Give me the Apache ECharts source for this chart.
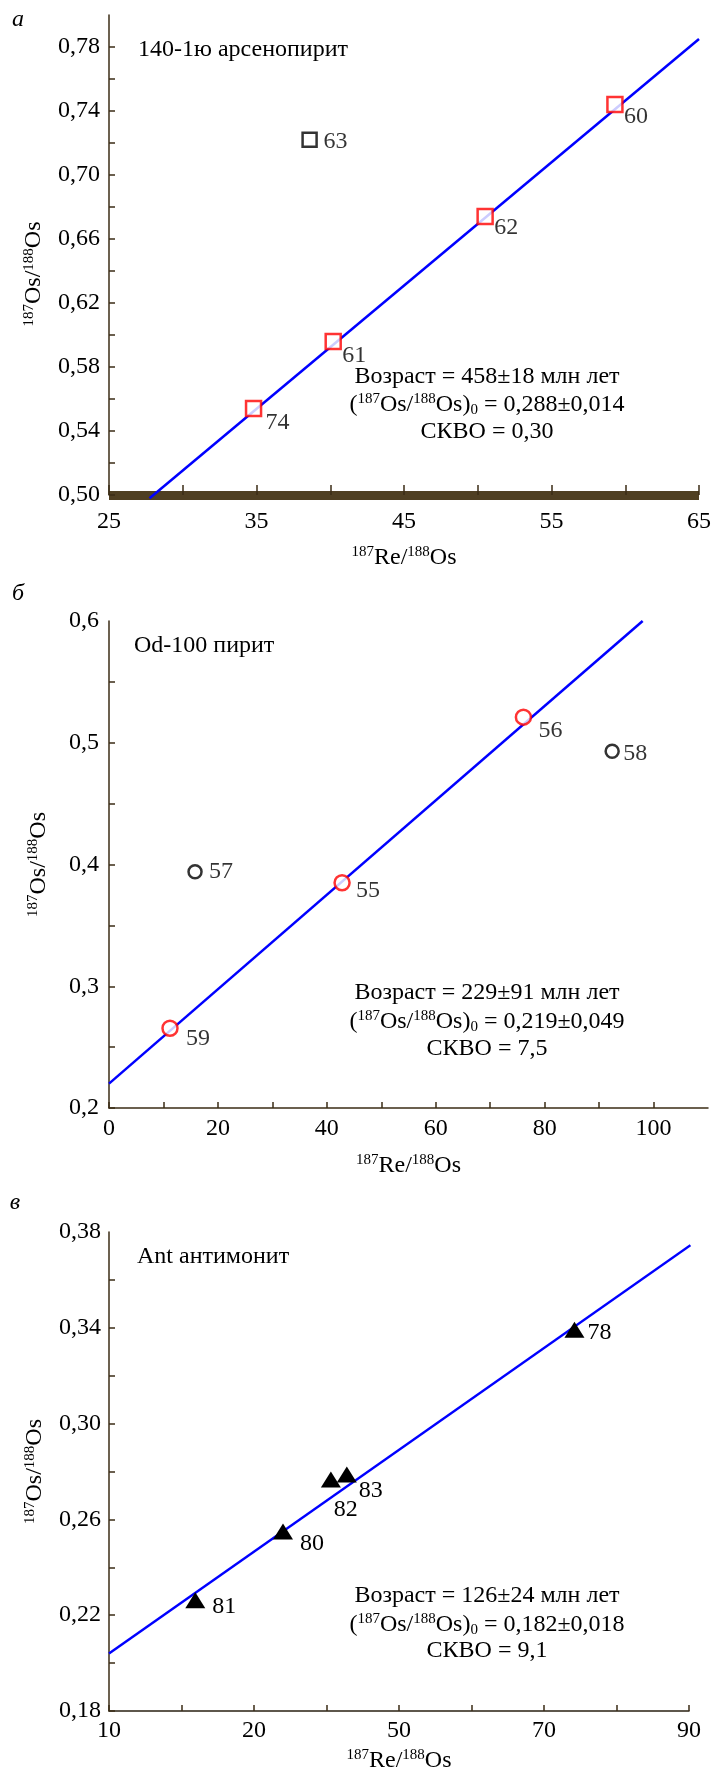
<!DOCTYPE html>
<html>
<head>
<meta charset="utf-8">
<script src="https://cdn.jsdelivr.net/npm/echarts@6/dist/echarts.min.js"></script>
<style>
html,body{margin:0;padding:0;background:#fff;}
#chart{width:715px;height:1775px;}
</style>
</head>
<body>
<div id="chart"></div>
<script>
// ---------- DATA ----------
// Panel а : 140-1ю арсенопирит
const aFitX = [34.8, 40.2, 50.5, 59.3];
const aFitY = [0.554, 0.596, 0.674, 0.744];
const aFitIds = ['74', '61', '62', '60'];
const aOutX = [38.6];
const aOutY = [0.722];
const aOutIds = ['63'];
const aLineX = [27.75, 65];
const aLineY = [0.498, 0.785];
const aXTicks = [25, 30, 35, 40, 45, 50, 55, 60, 65];
const aXLabels = [25, 35, 45, 55, 65];
const aYTicks = [0.50, 0.52, 0.54, 0.56, 0.58, 0.60, 0.62, 0.64, 0.66, 0.68, 0.70, 0.72, 0.74, 0.76, 0.78];
const aYLabels = [0.50, 0.54, 0.58, 0.62, 0.66, 0.70, 0.74, 0.78];

// Panel б : Od-100 пирит
const bFitX = [11.2, 42.8, 76.1];
const bFitY = [0.2655, 0.385, 0.521];
const bFitIds = ['59', '55', '56'];
const bOutX = [15.8, 92.4];
const bOutY = [0.394, 0.493];
const bOutIds = ['57', '58'];
const bLineX = [0, 98];
const bLineY = [0.22, 0.60];
const bXTicks = [0, 10, 20, 30, 40, 50, 60, 70, 80, 90, 100];
const bXLabels = [0, 20, 40, 60, 80, 100];
const bYTicks = [0.20, 0.25, 0.30, 0.35, 0.40, 0.45, 0.50, 0.55];
const bYLabels = [0.2, 0.3, 0.4, 0.5, 0.6];

// Panel в : Ant антимонит
const cX = [21.9, 34.0, 40.6, 42.8, 74.2];
const cY = [0.2262, 0.255, 0.2767, 0.2787, 0.3392];
const cIds = ['81', '80', '82', '83', '78'];
const cLineX = [10, 90.2];
const cLineY = [0.204, 0.3745];
const cXTicks = [10, 20, 30, 40, 50, 60, 70, 80, 90];
const cXLabelValues = [10, 30, 50, 70, 90];
const cXLabelTexts = ['10', '20', '50', '70', '90'];
const cYTicks = [0.18, 0.20, 0.22, 0.24, 0.26, 0.28, 0.30, 0.32, 0.34, 0.36];
const cYLabels = [0.18, 0.22, 0.26, 0.30, 0.34, 0.38];

// ---------- STYLE / LAYOUT ----------
const FF = '"Liberation Serif","Times New Roman",serif';
const AX = '#3b2c16';
const BAND = '#4f3f22';
const BLUE = '#0000ff';
const RED = '#ff0000';
const FS = 24;
const SUP = 15;
const rich = {
  sup: {fontFamily: FF, fontSize: SUP, color: '#000', verticalAlign: 'top', lineHeight: 15},
  sub: {fontFamily: FF, fontSize: SUP, color: '#000', verticalAlign: 'bottom', lineHeight: 15}
};
const nameStyle = (pad) => ({fontFamily: FF, fontSize: FS, color: '#000', lineHeight: 26, rich: rich, padding: pad || 0});
const comma = (d) => (v) => Number(v).toFixed(d).replace('.', ',');

// label offsets (pixels) relative to marker centre
const aFitOff = [[24, 14], [21, 14], [21, 11], [21, 12]];
const aOutOff = [[26, 2]];
const bFitOff = [[28, 10], [26, 8], [27, 14]];
const bOutOff = [[26, 0], [23, 2]];
const cOff = [[29, 6], [29, 12], [15, 30], [24, 16], [25, 3]];

function pts(xs, ys, ids, offs) {
  return xs.map((x, i) => ({
    value: [x, ys[i]],
    name: ids[i],
    label: {offset: offs[i]}
  }));
}
function line(xs, ys) { return xs.map((x, i) => [x, ys[i]]); }

const ptLabel = {show: true, position: 'inside', align: 'center', verticalAlign: 'middle',
  formatter: (p) => p.name, fontFamily: FF, fontSize: FS, color: '#000'};

function xAxis(gi, min, max, ticks, labels, fmt, margin, nameGap, lineStyle, tickLen) {
  return {
    gridIndex: gi, type: 'value', min: min, max: max,
    axisLine: {show: true, onZero: false, lineStyle: lineStyle},
    axisTick: {show: true, inside: true, length: tickLen, customValues: ticks, lineStyle: {color: AX, width: 1.5}},
    axisLabel: {show: true, customValues: labels, formatter: fmt, margin: margin, fontFamily: FF, fontSize: FS, color: '#000'},
    splitLine: {show: false},
    name: '{sup|187}Re/{sup|188}Os', nameLocation: 'middle', nameGap: nameGap,
    nameTextStyle: nameStyle()
  };
}
function yAxis(gi, min, max, ticks, labels, fmt, margin, nameGap, pad) {
  return {
    gridIndex: gi, type: 'value', min: min, max: max,
    axisLine: {show: true, onZero: false, lineStyle: {color: AX, width: 1.5}},
    axisTick: {show: true, inside: true, length: 6, customValues: ticks, lineStyle: {color: AX, width: 1.5}},
    axisLabel: {show: true, customValues: labels, formatter: fmt, margin: margin, fontFamily: FF, fontSize: FS, color: '#000'},
    splitLine: {show: false},
    name: '{sup|187}Os/{sup|188}Os', nameLocation: 'middle', nameRotate: 90, nameGap: nameGap,
    nameTextStyle: nameStyle(pad)
  };
}

function txt(x, y, text, align, extra) {
  return {type: 'text', x: x, y: y, silent: true,
    style: Object.assign({text: text, fontFamily: FF, fontSize: FS, fill: '#000',
      textAlign: align || 'left', textVerticalAlign: 'middle', rich: rich, lineHeight: 26}, extra || {})};
}
const SX = 487;

const option = {
  animation: false,
  backgroundColor: '#fff',
  grid: [
    {left: 109, top: 15, width: 590, height: 480},
    {left: 109, top: 621, width: 599, height: 487},
    {left: 109, top: 1232, width: 580, height: 481}
  ],
  xAxis: [
    xAxis(0, 25, 65, aXTicks, aXLabels, (v) => String(v), 15, 50, {color: BAND, width: 9, cap: 'butt'}, 10),
    xAxis(1, 0, 110, bXTicks, bXLabels, (v) => String(v), 9, 45, {color: AX, width: 1.5}, 6),
    xAxis(2, 10, 90, cXTicks, cXLabelValues, (v) => cXLabelTexts[cXLabelValues.indexOf(v)] || '', 8, 37, {color: '#2a2012', width: 1.5}, 6)
  ],
  yAxis: [
    yAxis(0, 0.50, 0.80, aYTicks, aYLabels, comma(2), 9, 57, [0, 38, 0, 0]),
    yAxis(1, 0.2, 0.6, bYTicks, bYLabels, comma(1), 10, 57),
    yAxis(2, 0.18, 0.38, cYTicks, cYLabels, comma(2), 8, 57)
  ],
  series: [
    {type: 'line', xAxisIndex: 0, yAxisIndex: 0, data: line(aLineX, aLineY), symbol: 'none', clip: false,
      lineStyle: {color: BLUE, width: 2.5}, z: 3, silent: true},
    {type: 'scatter', xAxisIndex: 0, yAxisIndex: 0, data: pts(aFitX, aFitY, aFitIds, aFitOff), symbol: 'rect', symbolSize: 15,
      itemStyle: {color: '#fff', borderColor: RED, borderWidth: 2.5}, label: ptLabel, z: 4, silent: true},
    {type: 'scatter', xAxisIndex: 0, yAxisIndex: 0, data: pts(aOutX, aOutY, aOutIds, aOutOff), symbol: 'rect', symbolSize: 14,
      itemStyle: {color: '#fff', borderColor: '#000', borderWidth: 2.5}, label: ptLabel, z: 4, silent: true},

    {type: 'line', xAxisIndex: 1, yAxisIndex: 1, data: line(bLineX, bLineY), symbol: 'none', clip: false,
      lineStyle: {color: BLUE, width: 2.5}, z: 3, silent: true},
    {type: 'scatter', xAxisIndex: 1, yAxisIndex: 1, data: pts(bFitX, bFitY, bFitIds, bFitOff), symbol: 'circle', symbolSize: 15,
      itemStyle: {color: '#fff', borderColor: RED, borderWidth: 2.5}, label: ptLabel, z: 4, silent: true},
    {type: 'scatter', xAxisIndex: 1, yAxisIndex: 1, data: pts(bOutX, bOutY, bOutIds, bOutOff), symbol: 'circle', symbolSize: 13,
      itemStyle: {color: '#fff', borderColor: '#000', borderWidth: 2.5}, label: ptLabel, z: 4, silent: true},

    {type: 'line', xAxisIndex: 2, yAxisIndex: 2, data: line(cLineX, cLineY), symbol: 'none', clip: false,
      lineStyle: {color: BLUE, width: 2.5}, z: 3, silent: true},
    {type: 'scatter', xAxisIndex: 2, yAxisIndex: 2, data: pts(cX, cY, cIds, cOff), symbol: 'triangle', symbolSize: [20, 16],
      itemStyle: {color: '#000', opacity: 1}, label: ptLabel, z: 4, silent: true}
  ],
  graphic: [
    txt(18, 20, 'а', 'center', {fontStyle: 'italic'}),
    txt(138, 50, '140-1ю арсенопирит'),
    txt(SX, 377, 'Возраст = 458±18 млн лет', 'center'),
    txt(SX, 405, '({sup|187}Os/{sup|188}Os){sub|0} = 0,288±0,014', 'center'),
    txt(SX, 432, 'СКВО = 0,30', 'center'),

    txt(18, 594, 'б', 'center', {fontStyle: 'italic'}),
    txt(134, 646, 'Od-100 пирит'),
    txt(SX, 993, 'Возраст = 229±91 млн лет', 'center'),
    txt(SX, 1022, '({sup|187}Os/{sup|188}Os){sub|0} = 0,219±0,049', 'center'),
    txt(SX, 1049, 'СКВО = 7,5', 'center'),

    txt(15, 1203, 'в', 'center', {fontStyle: 'italic'}),
    txt(137, 1257, 'Ant антимонит'),
    txt(SX, 1596, 'Возраст = 126±24 млн лет', 'center'),
    txt(SX, 1625, '({sup|187}Os/{sup|188}Os){sub|0} = 0,182±0,018', 'center'),
    txt(SX, 1651, 'СКВО = 9,1', 'center')
  ]
};

const chart = echarts.init(document.getElementById('chart'), null, {renderer: 'canvas'});
chart.setOption(option);
</script>
</body>
</html>
